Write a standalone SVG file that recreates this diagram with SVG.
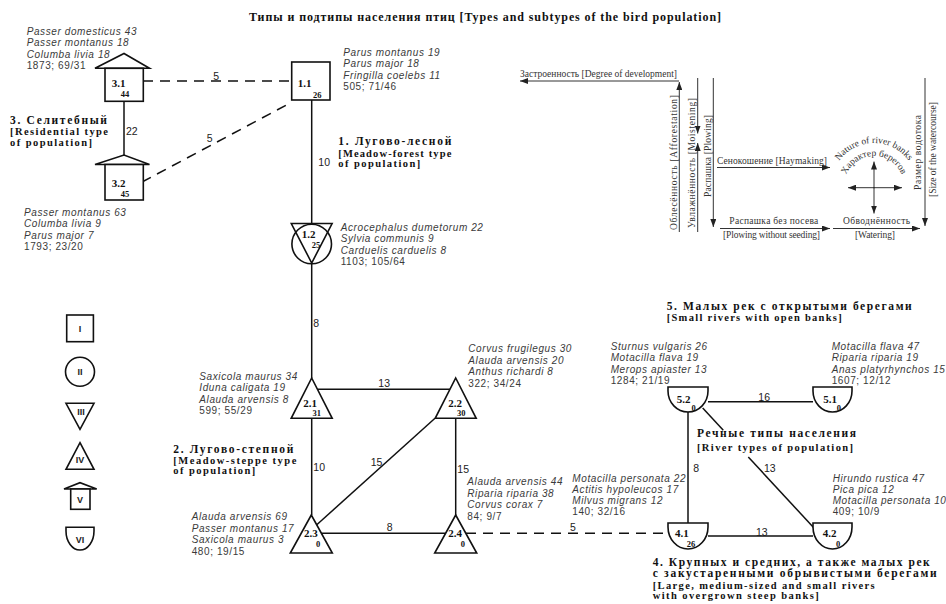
<svg xmlns="http://www.w3.org/2000/svg" width="946" height="604" viewBox="0 0 946 604">
<defs>
<style>
.sp{font-family:"Liberation Sans",Arial,sans-serif;font-size:10px;font-style:italic;fill:#3a3a3a;letter-spacing:0.6px}
.nm{font-style:normal}
.grp{font-family:"Liberation Serif","Times New Roman",serif;font-weight:bold;fill:#111}
.ru{font-size:11.5px}
.en{font-size:10.5px}
.nid{font-family:"Liberation Serif",serif;font-weight:bold;font-size:11px;fill:#111}
.nsub{font-family:"Liberation Serif",serif;font-weight:bold;font-size:8.5px;fill:#111}
.el{font-family:"Liberation Sans",Arial,sans-serif;font-size:10.5px;fill:#222}
.node{fill:#fff;stroke:#111;stroke-width:1.6}
.edge{stroke:#111;stroke-width:1.5;fill:none}
.dash{stroke-dasharray:10 7}
.lg{font-family:"Liberation Sans",Arial,sans-serif;font-weight:bold;font-size:9px;fill:#222;text-anchor:middle}
.fl{stroke:#333;stroke-width:1;fill:none}
.ft{font-family:"Liberation Serif","Times New Roman",serif;font-size:9.5px;fill:#333}
</style>
<marker id="ah" viewBox="0 0 8 6" refX="8" refY="3" markerWidth="8" markerHeight="6" markerUnits="userSpaceOnUse" orient="auto"><path d="M0,0 L8,3 L0,6 Z" fill="#222"/></marker>
<path id="arcIn" d="M844,186 A30,30 0 0 1 904,186"/>
<path id="arcOut" d="M831,186 A43,43 0 0 1 917,186"/>
</defs>
<rect width="946" height="604" fill="#fff"/>

<text class="grp" x="249" y="20.7" font-size="12" textLength="472" lengthAdjust="spacing">Типы и подтипы населения птиц [Types and subtypes of the bird population]</text>

<g id="connectors">
  <line class="edge dash" x1="143" y1="81" x2="292" y2="81"/>
  <line class="edge dash" x1="142" y1="182" x2="292" y2="102"/>
  <line class="edge" x1="124" y1="101" x2="124" y2="155"/>
  <line class="edge" x1="311.7" y1="100" x2="311.7" y2="223.5"/>
  <line class="edge" x1="311.7" y1="263.5" x2="311.7" y2="378"/>
  <line class="edge" x1="317.5" y1="389.3" x2="449.9" y2="389.3"/>
  <line class="edge" x1="311.7" y1="418.3" x2="311.7" y2="515"/>
  <line class="edge" x1="455.7" y1="418.3" x2="455.7" y2="515"/>
  <line class="edge" x1="435" y1="418.3" x2="316.5" y2="525"/>
  <line class="edge" x1="321.3" y1="533.3" x2="445.6" y2="533.3"/>
  <line class="edge dash" x1="466" y1="533.3" x2="668" y2="533.3"/>
  <line class="edge" x1="708" y1="401.7" x2="813" y2="401.7"/>
  <line class="edge" x1="708" y1="536" x2="813" y2="536"/>
  <line class="edge" x1="688" y1="412" x2="688" y2="523"/>
  <line class="edge" x1="702.7" y1="408" x2="723.3" y2="430.2"/>
  <line class="edge" x1="748.3" y1="457" x2="814" y2="528"/>
  <text class="el" x="213.3" y="80">5</text>
  <text class="el" x="206.7" y="141.7">5</text>
  <text class="el" x="126" y="135">22</text>
  <text class="el" x="318.3" y="166">10</text>
  <text class="el" x="313.3" y="326.7">8</text>
  <text class="el" x="378.3" y="387.3">13</text>
  <text class="el" x="313.3" y="470.7">10</text>
  <text class="el" x="370.7" y="466">15</text>
  <text class="el" x="457.3" y="472.7">15</text>
  <text class="el" x="386.7" y="530.7">8</text>
  <text class="el" x="570" y="530.7">5</text>
  <text class="el" x="758.3" y="400.7">16</text>
  <text class="el" x="693.3" y="472.3">8</text>
  <text class="el" x="764" y="472.3">13</text>
  <text class="el" x="756" y="535.7">13</text>
</g>

<g id="n3-1">
  <path class="node" d="M95,68.3 L124,53.5 L149.5,68.3 Z"/>
  <rect class="node" x="105" y="68.3" width="38.3" height="33"/>
  <text class="nid" x="111.7" y="86.7">3.1</text>
  <text class="nsub" x="120.7" y="97.3">44</text>
  <text class="sp" x="26.7" y="35">Passer domesticus 43<tspan x="26.7" dy="11.4">Passer montanus 18</tspan><tspan x="26.7" dy="11.4">Columba livia 18</tspan><tspan class="nm" x="26.7" dy="11.4">1873; 69/31</tspan></text>
</g>

<g id="n3-2">
  <path class="node" d="M95,164.5 L124,155 L149.5,164.5 Z"/>
  <rect class="node" x="105" y="164.5" width="38.3" height="35.5"/>
  <text class="nid" x="111.7" y="186.7">3.2</text>
  <text class="nsub" x="120.7" y="196.7">45</text>
  <text class="sp" x="24" y="215.7">Passer montanus 63<tspan x="24" dy="11.4">Columba livia 9</tspan><tspan x="24" dy="11.4">Parus major 7</tspan><tspan class="nm" x="24" dy="11.4">1793; 23/20</tspan></text>
</g>

<g id="n1-1">
  <rect class="node" x="291.7" y="62" width="38.3" height="38"/>
  <text class="nid" x="297.7" y="87">1.1</text>
  <text class="nsub" x="313" y="98">26</text>
  <text class="sp" x="343.3" y="55.7">Parus montanus 19<tspan x="343.3" dy="11.4">Parus major 18</tspan><tspan x="343.3" dy="11.4">Fringilla coelebs 11</tspan><tspan class="nm" x="343.3" dy="11.4">505; 71/46</tspan></text>
</g>

<g id="n1-2">
  <circle class="node" cx="311.7" cy="244" r="19.8"/>
  <path class="node" d="M291.3,223.5 L332.1,223.5 L311.7,263 Z" style="fill:none"/>
  <text class="nid" x="301.7" y="238.3">1.2</text>
  <text class="nsub" x="311.7" y="247.5">25</text>
  <text class="sp" x="340.7" y="230.7">Acrocephalus dumetorum 22<tspan x="340.7" dy="11.4">Sylvia communis 9</tspan><tspan x="340.7" dy="11.4">Carduelis carduelis 8</tspan><tspan class="nm" x="340.7" dy="11.4">1103; 105/64</tspan></text>
</g>

<g id="n2-1">
  <path class="node" d="M311.7,378 L332.2,418.3 L291.2,418.3 Z"/>
  <text class="nid" x="303.3" y="407">2.1</text>
  <text class="nsub" x="312.5" y="416.3">31</text>
  <text class="sp" x="199.3" y="380">Saxicola maurus 34<tspan x="199.3" dy="11.4">Iduna caligata 19</tspan><tspan x="199.3" dy="11.4">Alauda arvensis 8</tspan><tspan class="nm" x="199.3" dy="11.4">599; 55/29</tspan></text>
</g>

<g id="n2-2">
  <path class="node" d="M455.7,378 L476.2,418.3 L435.2,418.3 Z"/>
  <text class="nid" x="448.3" y="407">2.2</text>
  <text class="nsub" x="457" y="416.3">30</text>
  <text class="sp" x="468.3" y="352.3">Corvus frugilegus 30<tspan x="468.3" dy="11.4">Alauda arvensis 20</tspan><tspan x="468.3" dy="11.4">Anthus richardi 8</tspan><tspan class="nm" x="468.3" dy="11.4">322; 34/24</tspan></text>
</g>

<g id="n2-3">
  <path class="node" d="M311.3,515 L332.3,553 L290.3,553 Z"/>
  <text class="nid" x="304" y="537.3">2.3</text>
  <text class="nsub" x="316" y="547.3">0</text>
  <text class="sp" x="191.7" y="520">Alauda arvensis 69<tspan x="191.7" dy="11.5">Passer montanus 17</tspan><tspan x="191.7" dy="11.5">Saxicola maurus 3</tspan><tspan class="nm" x="191.7" dy="11.5">480; 19/15</tspan></text>
</g>

<g id="n2-4">
  <path class="node" d="M455.7,515 L476.7,553 L434.7,553 Z"/>
  <text class="nid" x="448.3" y="537.3">2.4</text>
  <text class="nsub" x="460.7" y="547.3">0</text>
  <text class="sp" x="467.3" y="485">Alauda arvensis 44<tspan x="467.3" dy="11.6">Riparia riparia 38</tspan><tspan x="467.3" dy="11.6">Corvus corax 7</tspan><tspan class="nm" x="467.3" dy="11.6">84; 9/7</tspan></text>
</g>

<g id="n4-1">
  <path class="node" d="M668,523 H708 V527 A20,22 0 0 1 668,527 Z"/>
  <text class="nid" x="675" y="537.3">4.1</text>
  <text class="nsub" x="686.7" y="546.5">26</text>
  <text class="sp" x="572.3" y="481.7">Motacilla personata 22<tspan x="572.3" dy="11.1">Actitis hypoleucos 17</tspan><tspan x="572.3" dy="11.1">Milvus migrans 12</tspan><tspan class="nm" x="572.3" dy="11.1">140; 32/16</tspan></text>
</g>

<g id="n4-2">
  <path class="node" d="M813,523 H852 V527 A19.5,22 0 0 1 813,527 Z"/>
  <text class="nid" x="822.7" y="537.3">4.2</text>
  <text class="nsub" x="836" y="546.5">0</text>
  <text class="sp" x="832.7" y="481.7">Hirundo rustica 47<tspan x="832.7" dy="11.1">Pica pica 12</tspan><tspan x="832.7" dy="11.1">Motacilla personata 10</tspan><tspan class="nm" x="832.7" dy="11.1">409; 10/9</tspan></text>
</g>

<g id="n5-2">
  <path class="node" d="M668,387 H708 V391 A20,21 0 0 1 668,391 Z"/>
  <text class="nid" x="676.7" y="403.3">5.2</text>
  <text class="nsub" x="691.5" y="410.5">0</text>
  <text class="sp" x="610.7" y="349.5">Sturnus vulgaris 26<tspan x="610.7" dy="11.5">Motacilla flava 19</tspan><tspan x="610.7" dy="11.5">Merops apiaster 13</tspan><tspan class="nm" x="610.7" dy="11.5">1284; 21/19</tspan></text>
</g>

<g id="n5-1">
  <path class="node" d="M813,387 H852 V391 A19.5,21 0 0 1 813,391 Z"/>
  <text class="nid" x="823.3" y="403.3">5.1</text>
  <text class="nsub" x="836.7" y="410.5">0</text>
  <text class="sp" x="831.7" y="349.5">Motacilla flava 47<tspan x="831.7" dy="11.5">Riparia riparia 19</tspan><tspan x="831.7" dy="11.5">Anas platyrhynchos 15</tspan><tspan class="nm" x="831.7" dy="11.5">1607; 12/12</tspan></text>
</g>

<g id="group-labels">
  <text class="grp ru" x="10" y="123.5" textLength="97" lengthAdjust="spacing">3. Селитебный</text>
  <text class="grp en" x="10" y="135" textLength="98" lengthAdjust="spacing">[Residential type</text>
  <text class="grp en" x="10" y="145.7" textLength="82" lengthAdjust="spacing">of population]</text>

  <text class="grp ru" x="338.3" y="145" textLength="113" lengthAdjust="spacing">1. Лугово-лесной</text>
  <text class="grp en" x="338.3" y="156.7" textLength="113" lengthAdjust="spacing">[Meadow-forest type</text>
  <text class="grp en" x="338.3" y="166.7" textLength="82" lengthAdjust="spacing">of population]</text>

  <text class="grp ru" x="173.3" y="453" textLength="120" lengthAdjust="spacing">2. Лугово-степной</text>
  <text class="grp en" x="173.3" y="464" textLength="123" lengthAdjust="spacing">[Meadow-steppe type</text>
  <text class="grp en" x="173.3" y="474" textLength="82" lengthAdjust="spacing">of population]</text>

  <text class="grp ru" x="666.7" y="310" textLength="245" lengthAdjust="spacing">5. Малых рек с открытыми берегами</text>
  <text class="grp en" x="666.7" y="321" textLength="175" lengthAdjust="spacing">[Small rivers with open banks]</text>

  <text class="grp ru" x="697" y="437.3" textLength="159" lengthAdjust="spacing">Речные типы населения</text>
  <text class="grp en" x="697" y="450.7" textLength="156" lengthAdjust="spacing">[River types of population]</text>

  <text class="grp ru" x="652.7" y="566" textLength="277" lengthAdjust="spacing">4. Крупных и средних, а также малых рек</text>
  <text class="grp ru" x="652.7" y="577" textLength="284" lengthAdjust="spacing">с закустаренными обрывистыми берегами</text>
  <text class="grp en" x="652.7" y="588.5" textLength="222" lengthAdjust="spacing">[Large, medium-sized and small rivers</text>
  <text class="grp en" x="652.7" y="599" textLength="166" lengthAdjust="spacing">with overgrown steep banks]</text>
</g>

<g id="legend">
  <rect class="node" x="66.7" y="315" width="26.7" height="26.7"/>
  <text class="lg" x="80" y="331.5">I</text>
  <circle class="node" cx="80" cy="371.7" r="14.5"/>
  <text class="lg" x="80" y="375">II</text>
  <path class="node" d="M66,403.3 L94,403.3 L80,429.3 Z"/>
  <text class="lg" x="81" y="415">III</text>
  <path class="node" d="M80,442.7 L94,469.3 L66,469.3 Z"/>
  <text class="lg" x="80" y="463.3">IV</text>
  <path class="node" d="M64,489 L80,482.7 L96.7,489 Z"/>
  <rect class="node" x="70.7" y="489" width="19.3" height="20.3"/>
  <text class="lg" x="80" y="502.5">V</text>
  <path class="node" d="M66,527.3 H94 V531 A14,19 0 0 1 66,531 Z"/>
  <text class="lg" x="80" y="542.5">VI</text>
</g>

<g id="factors">
  <line class="fl" x1="679" y1="81" x2="520" y2="81" marker-end="url(#ah)"/>
  <text class="ft" x="520" y="77" textLength="157" lengthAdjust="spacing">Застроенность [Degree of development]</text>

  <line class="fl" x1="679.3" y1="232" x2="679.3" y2="82" marker-end="url(#ah)"/>
  <text class="ft" transform="translate(676.5,230) rotate(-90)" textLength="135" lengthAdjust="spacing">Облесённость [Afforestation]</text>

  <line class="fl" x1="697.7" y1="78" x2="697.7" y2="133.5" marker-end="url(#ah)"/>
  <line class="fl" x1="697.7" y1="232" x2="697.7" y2="143" marker-end="url(#ah)"/>
  <text class="ft" transform="translate(695,228) rotate(-90)" textLength="130" lengthAdjust="spacing">Увлажнённость [Moistening]</text>

  <line class="fl" x1="713.3" y1="78" x2="713.3" y2="227" marker-end="url(#ah)"/>
  <text class="ft" transform="translate(711,197) rotate(-90)" textLength="82" lengthAdjust="spacing">Распашка [Plowing]</text>

  <line class="fl" x1="717" y1="167.5" x2="830" y2="167.5" marker-end="url(#ah)"/>
  <text class="ft" x="717" y="164.3" textLength="110" lengthAdjust="spacing">Сенокошение [Haymaking]</text>

  <line class="fl" x1="874" y1="188" x2="874" y2="161.5" marker-end="url(#ah)"/>
  <line class="fl" x1="874" y1="187" x2="874" y2="213.5" marker-end="url(#ah)"/>
  <line class="fl" x1="875" y1="187.7" x2="848" y2="187.7" marker-end="url(#ah)"/>
  <line class="fl" x1="873" y1="187.7" x2="902" y2="187.7" marker-end="url(#ah)"/>
  <text class="ft" font-size="9.5"><textPath href="#arcIn" startOffset="50%" text-anchor="middle">Характер берегов</textPath></text>
  <text class="ft" font-size="9"><textPath href="#arcOut" startOffset="50%" text-anchor="middle">Nature of river banks</textPath></text>

  <line class="fl" x1="925" y1="78" x2="925" y2="226" marker-end="url(#ah)"/>
  <text class="ft" transform="translate(920.5,190) rotate(-90)" textLength="75" lengthAdjust="spacing">Размер водотока</text>
  <text class="ft" transform="translate(936,197) rotate(-90)" textLength="95" lengthAdjust="spacing">[Size of the watercourse]</text>

  <line class="fl" x1="720" y1="228.5" x2="830" y2="228.5" marker-end="url(#ah)"/>
  <text class="ft" x="729.3" y="224.3" textLength="89" lengthAdjust="spacing">Распашка без посева</text>
  <text class="ft" x="723" y="238" textLength="97" lengthAdjust="spacing">[Plowing without seeding]</text>
  <line class="fl" x1="833" y1="228.5" x2="920" y2="228.5" marker-end="url(#ah)"/>
  <text class="ft" x="843" y="224.3" textLength="67" lengthAdjust="spacing">Обводнённость</text>
  <text class="ft" x="855" y="238" textLength="40" lengthAdjust="spacing">[Watering]</text>
</g>
</svg>
